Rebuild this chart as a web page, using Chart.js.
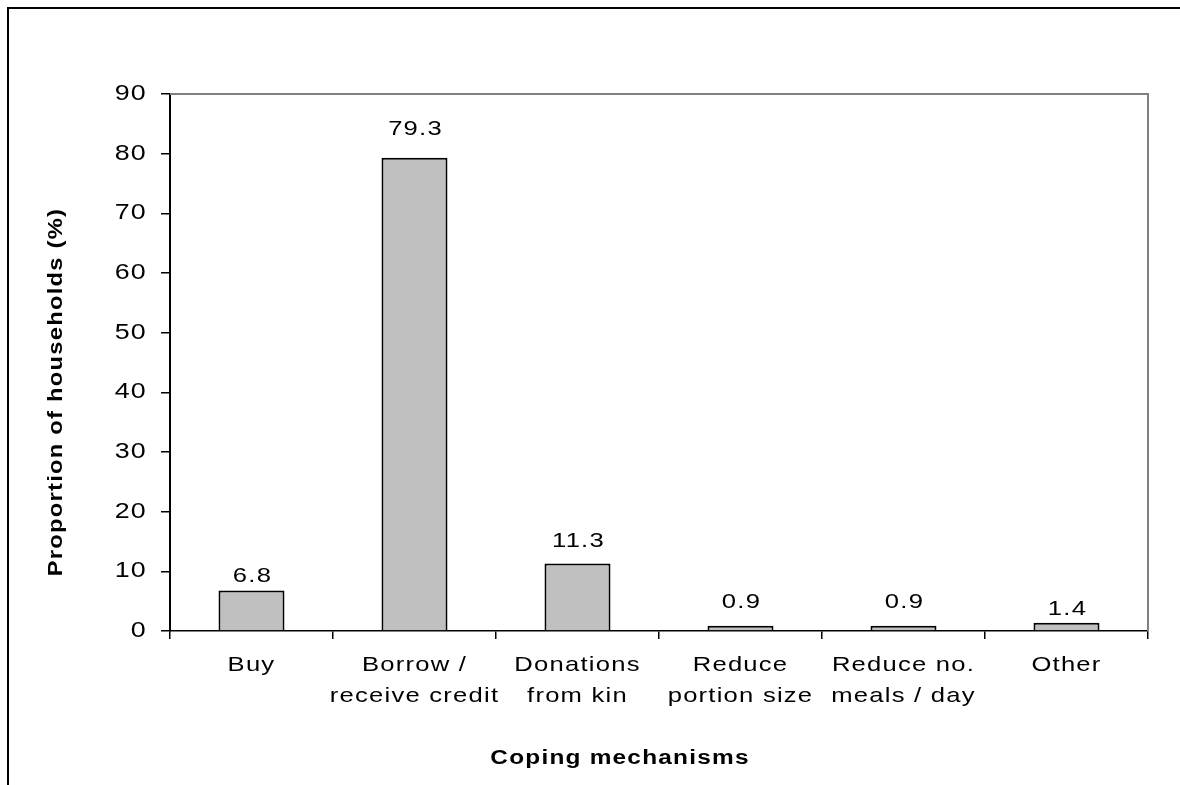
<!DOCTYPE html>
<html>
<head>
<meta charset="utf-8">
<script src="https://cdn.jsdelivr.net/npm/chart.js@4.4.1/dist/chart.umd.min.js"></script>
<style>
  html, body { margin: 0; padding: 0; background: #ffffff; }
  #wrap { position: relative; width: 1180px; height: 785px; }
</style>
</head>
<body>
<div id="wrap"><canvas id="chart" width="1180" height="785"></canvas></div>
<script>
// Coping mechanisms used by households, share of households (%)
const categories = [
  ["Buy"],
  ["Borrow /", "receive credit"],
  ["Donations", "from kin"],
  ["Reduce", "portion size"],
  ["Reduce no.", "meals / day"],
  ["Other"]
];
const proportions = [6.8, 79.3, 11.3, 0.9, 0.9, 1.4];
const yTickValues = [0, 10, 20, 30, 40, 50, 60, 70, 80, 90];
const xAxisTitle = 'Coping mechanisms';
const yAxisTitle = 'Proportion of households (%)';

const FONT = "'Liberation Sans', Arial, sans-serif";
const STRETCH = 1.22;     // horizontal widening of all glyphs
const SPACING = '1px';

// Draw every text item slightly widened, the way the chart's typeface looks
function widenText(ctx) {
  if (ctx.__widened) return;
  ctx.__widened = true;
  const fill = ctx.fillText.bind(ctx);
  const measure = ctx.measureText.bind(ctx);
  ctx.fillText = function (text, x, y) {
    ctx.save();
    ctx.translate(x, y);
    ctx.scale(STRETCH, 1);
    fill(text, 0, 0);
    ctx.restore();
  };
  ctx.measureText = function (text) {
    const m = measure(text);
    return {
      width: m.width * STRETCH,
      actualBoundingBoxLeft: m.actualBoundingBoxLeft * STRETCH,
      actualBoundingBoxRight: m.actualBoundingBoxRight * STRETCH,
      actualBoundingBoxAscent: m.actualBoundingBoxAscent,
      actualBoundingBoxDescent: m.actualBoundingBoxDescent,
      fontBoundingBoxAscent: m.fontBoundingBoxAscent,
      fontBoundingBoxDescent: m.fontBoundingBoxDescent
    };
  };
}

const textStylePlugin = {
  id: 'textStyle',
  beforeLayout(chart) { widenText(chart.ctx); chart.ctx.letterSpacing = SPACING; },
  beforeDraw(chart) { widenText(chart.ctx); chart.ctx.letterSpacing = SPACING; }
};

// Page frame: white background with a rule along the top and left edges
const framePlugin = {
  id: 'frame',
  beforeDraw(chart) {
    const ctx = chart.ctx;
    ctx.save();
    ctx.fillStyle = '#ffffff';
    ctx.fillRect(0, 0, chart.width, chart.height);
    ctx.fillStyle = '#000000';
    ctx.fillRect(7, 7, chart.width - 7, 2);
    ctx.fillRect(7, 7, 2, chart.height - 7);
    ctx.restore();
  }
};

// Grey border on the top and right of the plot area
const plotBorderPlugin = {
  id: 'plotBorder',
  afterDraw(chart) {
    const { left, right, top, bottom } = chart.chartArea;
    const ctx = chart.ctx;
    ctx.save();
    ctx.strokeStyle = '#808080';
    ctx.lineWidth = 2;
    ctx.beginPath();
    ctx.moveTo(left, top);
    ctx.lineTo(right, top);
    ctx.lineTo(right, bottom);
    ctx.stroke();
    ctx.restore();
  }
};

// Axis titles, placed off-centre as in the original layout
const axisTitlePlugin = {
  id: 'axisTitles',
  afterDraw(chart, args, opts) {
    const ctx = chart.ctx;
    ctx.save();
    ctx.fillStyle = '#000000';
    ctx.textAlign = 'center';
    ctx.textBaseline = 'middle';
    ctx.font = opts.x.font;
    ctx.fillText(opts.x.text, opts.x.cx, opts.x.cy);
    ctx.translate(opts.y.cx, opts.y.cy);
    ctx.rotate(-Math.PI / 2);
    ctx.font = opts.y.font;
    ctx.fillText(opts.y.text, 0, 0);
    ctx.restore();
  }
};

// Value printed above each bar
const valueLabelPlugin = {
  id: 'valueLabels',
  afterDatasetsDraw(chart, args, opts) {
    const ctx = chart.ctx;
    const meta = chart.getDatasetMeta(0);
    const values = chart.data.datasets[0].data;
    ctx.save();
    ctx.font = opts.font;
    ctx.fillStyle = '#000000';
    ctx.textAlign = 'center';
    ctx.textBaseline = 'alphabetic';
    meta.data.forEach((bar, i) => {
      const gap = opts.gaps[i] ?? 10;
      ctx.fillText(values[i].toFixed(1), bar.x + 1, bar.y - gap);
    });
    ctx.restore();
  }
};

new Chart(document.getElementById('chart'), {
  type: 'bar',
  data: {
    labels: categories,
    datasets: [{
      data: proportions,
      backgroundColor: '#c0c0c0',
      borderColor: '#000000',
      borderWidth: 2,
      borderSkipped: 'bottom',
      categoryPercentage: 1.0,
      barPercentage: 0.405
    }]
  },
  options: {
    responsive: false,
    animation: false,
    devicePixelRatio: 1,
    layout: { padding: { left: 0, right: 32, top: 94, bottom: 0 } },
    plugins: {
      legend: { display: false },
      tooltip: { enabled: false },
      valueLabels: {
        font: '21px ' + FONT,
        gaps: [8, 23, 17, 18, 18, 8]
      },
      axisTitles: {
        x: { text: xAxisTitle, font: 'bold 20px ' + FONT, cx: 620, cy: 758 },
        y: { text: yAxisTitle, font: 'bold 19.5px ' + FONT, cx: 57, cy: 392 }
      }
    },
    scales: {
      x: {
        offset: true,
        grid: {
          offset: true,
          drawOnChartArea: false,
          drawTicks: true,
          tickLength: 8,
          color: '#000000',
          lineWidth: 1.5
        },
        border: { display: true, color: '#000000', width: 1.5 },
        ticks: {
          color: '#000000',
          padding: 11,
          maxRotation: 0,
          autoSkip: false,
          font: { family: FONT, size: 21, lineHeight: 1.476 }
        },
        title: { display: false },
        afterFit(scale) { scale.height = 154; }
      },
      y: {
        min: 0,
        max: 90,
        afterBuildTicks(scale) { scale.ticks = yTickValues.map(v => ({ value: v })); },
        grid: {
          drawOnChartArea: false,
          drawTicks: true,
          tickLength: 9,
          color: '#000000',
          lineWidth: 1.5
        },
        border: { display: true, color: '#000000', width: 2 },
        ticks: {
          color: '#000000',
          padding: 14,
          font: { family: FONT, size: 22 }
        },
        title: { display: false },
        afterFit(scale) { scale.width = 170; }
      }
    }
  },
  plugins: [textStylePlugin, framePlugin, plotBorderPlugin, axisTitlePlugin, valueLabelPlugin]
});
</script>
</body>
</html>
